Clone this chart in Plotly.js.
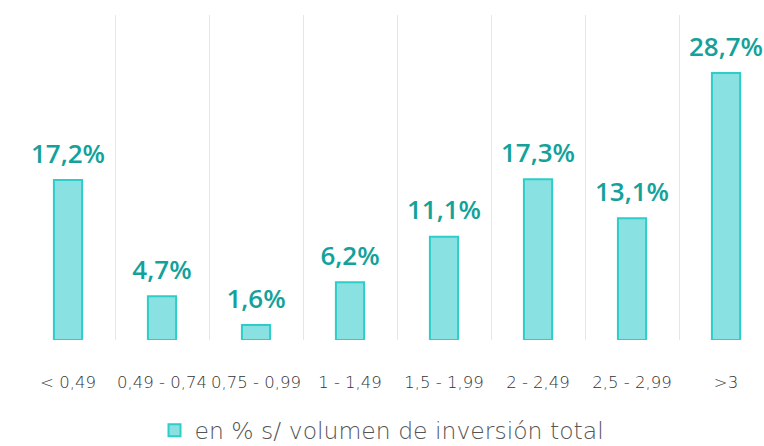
<!DOCTYPE html>
<html>
<head>
<meta charset="utf-8">
<script src="https://cdn.plot.ly/plotly-3.0.1.min.js"></script>
<style>html,body{margin:0;padding:0;background:#fff;}#chart{width:764px;height:446px;}</style>
</head>
<body>
<div id="chart"></div>
<script>
const categories = ["< 0,49", "0,49 - 0,74", "0,75 - 0,99", "1 - 1,49", "1,5 - 1,99", "2 - 2,49", "2,5 - 2,99", ">3"];
const values = [17.2, 4.7, 1.6, 6.2, 11.1, 17.3, 13.1, 28.7];
const seriesName = "en % s/ volumen de inversión total";
const labels = values.map(v => v.toFixed(1).replace('.', ',') + '%');

const bars = {
  type: 'bar',
  x: categories,
  y: values,
  name: seriesName,
  width: 0.3,
  marker: {color: '#89E2E1', line: {color: '#2ECDC9', width: 2}},
  hoverinfo: 'skip'
};
const texts = {
  type: 'scatter',
  mode: 'markers+text',
  x: categories,
  y: values,
  text: labels,
  textposition: 'top center',
  textfont: {family: '"Open Sans", sans-serif', size: 26, color: '#13A29B', weight: 600},
  marker: {size: 16, opacity: 0},
  showlegend: false,
  hoverinfo: 'skip',
  cliponaxis: false
};

const layout = {
  width: 764, height: 446,
  margin: {l: 21, r: 0, t: 15, b: 106},
  paper_bgcolor: '#fff', plot_bgcolor: '#fff',
  showlegend: true,
  legend: {orientation: 'h', x: 0.5, xanchor: 'center', xref: 'container', yref: 'container', y: 0.035, yanchor: 'middle',
           font: {family: '"DejaVu Sans", sans-serif', size: 23.5, color: '#555', weight: 200}},
  xaxis: {
    type: 'category', range: [-0.5, 7.404], tickson: 'boundaries',
    showgrid: true, gridcolor: '#E6E6E6', gridwidth: 1,
    ticks: '', showline: false, zeroline: false,
    tickangle: 0,
    ticklabelstandoff: 30,
    tickfont: {family: '"DejaVu Sans", sans-serif', size: 16.5, color: '#333', weight: 200}
  },
  yaxis: {range: [0, 34.95], showgrid: false, showticklabels: false, zeroline: false, showline: false, ticks: ''},
  font: {family: '"Open Sans", sans-serif'}
};
Plotly.newPlot('chart', [bars, texts], layout, {displayModeBar: false, staticPlot: true});
</script>
</body>
</html>
